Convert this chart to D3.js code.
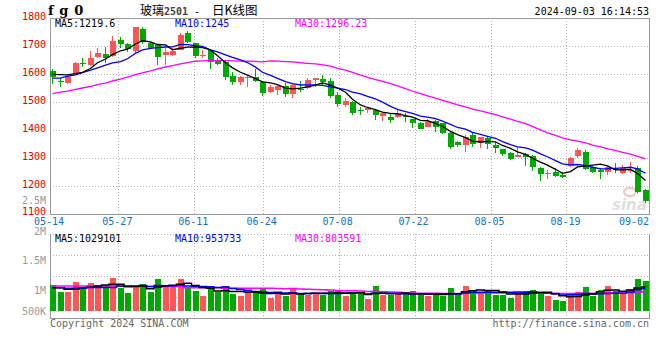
<!DOCTYPE html>
<html><head><meta charset="utf-8">
<script src="https://cdn.jsdelivr.net/npm/d3@7"></script>
<style>
html,body{margin:0;padding:0;background:#fff;}
svg{display:block;}
text{font-family:"DejaVu Sans Mono",monospace;font-size:10px;}
</style></head><body>
<svg id="c" width="660" height="360"></svg>
<script>
// ---------- data ----------
const dates = ["05-14","05-15","05-16","05-17","05-20","05-21","05-22","05-23","05-24","05-27",
"05-28","05-29","05-30","05-31","06-03","06-04","06-05","06-06","06-07","06-11",
"06-12","06-13","06-14","06-17","06-18","06-19","06-20","06-21","06-24","06-25",
"06-26","06-27","06-28","07-01","07-02","07-03","07-04","07-05","07-08","07-09",
"07-10","07-11","07-12","07-15","07-16","07-17","07-18","07-19","07-22","07-23",
"07-24","07-25","07-26","07-29","07-30","07-31","08-01","08-02","08-05","08-06",
"08-07","08-08","08-09","08-12","08-13","08-14","08-15","08-16","08-19","08-20",
"08-21","08-22","08-23","08-26","08-27","08-28","08-29","08-30","09-02","09-03"];
const open = [1612,1574,1570,1600,1641,1632,1662,1671,1664,1721,1707,1683,1760,1712,1704,1668,1668,1689,1747,1710,
1666,1684,1648,1644,1593,1572,1588,1590,1572,1537,1543,1557,1530,1547,1553,1579,1582,1576,1525,1490,
1501,1472,1469,1471,1450,1447,1445,1450,1439,1426,1412,1432,1424,1390,1358,1346,1382,1352,1373,1346,
1331,1319,1305,1316,1307,1263,1244,1251,1239,1272,1305,1323,1269,1257,1250,1259,1245,1256,1263,1184];
const high = [1617,1585,1592,1643,1656,1683,1692,1698,1736,1733,1710,1769,1767,1716,1706,1692,1692,1745,1752,1712,
1686,1686,1656,1646,1606,1592,1593,1618,1574,1561,1559,1567,1567,1575,1587,1587,1598,1585,1536,1513,
1503,1483,1483,1473,1461,1459,1471,1461,1441,1427,1438,1434,1426,1392,1360,1382,1390,1376,1375,1358,
1333,1321,1338,1318,1309,1269,1257,1263,1251,1305,1335,1329,1271,1263,1271,1281,1275,1286,1271,1189];
const low = [1564,1552,1566,1598,1624,1630,1656,1640,1662,1692,1680,1674,1707,1690,1632,1632,1666,1686,1711,1656,
1656,1618,1631,1580,1562,1561,1555,1573,1520,1531,1525,1519,1516,1537,1545,1555,1561,1513,1483,1482,
1454,1452,1462,1436,1433,1426,1443,1430,1408,1402,1410,1394,1385,1332,1338,1322,1340,1335,1332,1317,
1307,1293,1304,1273,1255,1219,1224,1233,1227,1269,1299,1257,1245,1224,1239,1247,1243,1247,1174,1140];
const close = [1590,1572,1590,1640,1638,1658,1676,1656,1718,1707,1688,1767,1715,1695,1662,1680,1682,1741,1715,1664,
1669,1640,1639,1590,1572,1590,1590,1576,1532,1555,1557,1529,1562,1544,1580,1586,1570,1522,1492,1504,
1460,1469,1477,1454,1460,1437,1460,1445,1426,1404,1430,1412,1390,1340,1346,1376,1350,1374,1352,1335,
1313,1299,1311,1306,1267,1242,1246,1237,1233,1299,1327,1262,1251,1250,1269,1257,1263,1258,1176,1144];
const volume = [1109000,821000,821000,1253000,965000,1210000,1066000,1066000,1426000,965000,
778000,1008000,1152000,821000,1368000,1066000,1109000,1368000,1037000,864000,
634000,922000,821000,1066000,720000,634000,821000,749000,922000,562000,
720000,648000,936000,749000,677000,749000,677000,864000,893000,634000,
778000,706000,504000,1080000,677000,677000,706000,706000,850000,677000,
648000,677000,648000,994000,706000,1066000,893000,821000,893000,677000,
677000,562000,821000,850000,893000,792000,648000,461000,418000,720000,
806000,1008000,648000,893000,1066000,864000,706000,922000,1368000,1282000];
// moving-average values before a full window exists inside this period
const ma5Head = [1599,1598,1597,1601];
const ma10Head = [1585,1585,1592,1597,1605,1614,1622,1632,1640];
const ma30Head = [1530,1535,1539,1545,1550,1556,1562,1567,1575,1582,1589,1598,1604,1611,1618,1625,1630,1636,1641,1646,1647,1648,1648,1648,1647,1646,1646,1645,1643];
const volMa5Head = [990000,990000,930000,930000];
const volMa10Head = [990000,990000,970000,970000,970000,1000000,1000000,1000000,1000000];
const volMa30Head = [1070000,1070000,1070000,1070000,1070000,1070000,1070000,1070000,1070000,1070000,1070000,1070000,
1040000,1040000,1040000,1040000,1040000,1040000,990000,990000,990000,990000,990000,970000,970000,970000,970000,970000,970000];
const priceTicks = [1800,1700,1600,1500,1400,1300,1200,1100];
const volTickValues = [2500000,2000000,1500000,1000000,500000];
const volTickLabels = ["2.5M","2M","1.5M","1M","500K"];
const dateTicks = ["05-14","05-27","06-11","06-24","07-08","07-22","08-05","08-19","09-02"];
const maNames = ["MA5","MA10","MA30"];
const priceMaText = ["1219.6","1245","1296.23"];
const volMaText = ["1029101","953733","803591"];
const maColors = ["#000000","#0000ff","#ff00ff"];

// ---------- helpers ----------
function movingAvg(arr, n, head){
  return arr.map((v,i)=> i < n-1 ? head[i] : d3.mean(arr.slice(i-n+1,i+1)));
}
const ma5 = movingAvg(close,5,ma5Head), ma10 = movingAvg(close,10,ma10Head), ma30 = movingAvg(close,30,ma30Head);
const vma5 = movingAvg(volume,5,volMa5Head), vma10 = movingAvg(volume,10,volMa10Head), vma30 = movingAvg(volume,30,volMa30Head);

const UP="#ff5555", DOWN="#00a800", GRID="#b4b4b4", FRAME="#999999";
const L=50, R=649, T=18, B=214, VT=234, VB=318;

const svg = d3.select("#c");
const x = d3.scaleBand().domain(dates).range([49.5,649.5]).paddingInner(0.2).paddingOuter(0.1);
const xg = d3.scalePoint().domain(dates).range([50,650]);
const y = d3.scaleLinear().domain([1100,1800]).range([214,18]);
const yv = d3.scaleLinear().domain([0,3300000]).range([310.7,234.3]);
const yvl = d3.scaleLinear().domain([650000,2500000]).range([311,200]).clamp(true);
const bx = d => Math.round(x(d));
const cx = d => Math.round(x(d)) + 3;

// ---------- gridlines ----------
const g = svg.append("g").attr("shape-rendering","crispEdges");
g.selectAll(".hg").data(priceTicks.filter(p=>p<1800 && p>1100)).join("line")
  .attr("x1",L).attr("x2",R).attr("y1",p=>Math.round(y(p))+0.5).attr("y2",p=>Math.round(y(p))+0.5)
  .attr("stroke",GRID).attr("stroke-dasharray","1,2");
const vTicks = dateTicks.slice(1,-1);
g.selectAll(".vg").data(vTicks).join("line")
  .attr("x1",d=>Math.round(xg(d))+0.5).attr("x2",d=>Math.round(xg(d))+0.5).attr("y1",T).attr("y2",B)
  .attr("stroke",GRID).attr("stroke-dasharray","1,2");
g.selectAll(".vg2").data(vTicks).join("line")
  .attr("x1",d=>Math.round(xg(d))+0.5).attr("x2",d=>Math.round(xg(d))+0.5).attr("y1",VT).attr("y2",VB)
  .attr("stroke",GRID).attr("stroke-dasharray","1,2");
g.selectAll(".vh").data([1,2,3]).join("line")
  .attr("x1",L).attr("x2",R).attr("y1",k=>VT+k*(VB-VT)/4+0.5).attr("y2",k=>VT+k*(VB-VT)/4+0.5)
  .attr("stroke",GRID).attr("stroke-dasharray","1,2");
g.append("line").attr("x1",L).attr("x2",R).attr("y1",VT+0.5).attr("y2",VT+0.5)
  .attr("stroke",GRID).attr("stroke-dasharray","1,2");

// frames
g.append("path").attr("d",`M${L+0.5},${B+0.5}V${T+0.5}H${R+0.5}V${B+0.5}H${L+0.5}`)
  .attr("fill","none").attr("stroke",FRAME);
g.append("path").attr("d",`M${L+0.5},${VT}V${VB+0.5}H${R+0.5}V${VT}`)
  .attr("fill","none").attr("stroke",FRAME);

// watermark
const wm = svg.append("g").attr("opacity",0.5);
wm.append("ellipse").attr("cx",630).attr("cy",192).attr("rx",6).attr("ry",4)
  .attr("fill","none").attr("stroke","#f08a8a").attr("stroke-width",2);
wm.append("text").attr("x",612).attr("y",210).text("sina")
  .style("font-family","DejaVu Sans").style("font-style","italic").style("font-weight","bold")
  .style("font-size","15px").attr("fill","#c0c0c0");

// ---------- candles ----------
const cg = svg.append("g").attr("shape-rendering","crispEdges");
const idx = d3.range(dates.length);
const col = i => close[i] >= open[i] ? UP : DOWN;
cg.selectAll(".wick").data(idx).join("line")
  .attr("x1",i=>cx(dates[i])-0.5).attr("x2",i=>cx(dates[i])-0.5)
  .attr("y1",i=>y(high[i])).attr("y2",i=>y(low[i]))
  .attr("stroke",col);
cg.selectAll(".body").data(idx).join("rect")
  .attr("x",i=>bx(dates[i])).attr("width",6)
  .attr("y",i=>Math.round(Math.min(y(open[i]),y(close[i]))))
  .attr("height",i=>Math.max(1,Math.round(Math.abs(y(open[i])-y(close[i])))))
  .attr("fill",col);

// price MA lines
const lineP = d3.line().x((v,i)=>cx(dates[i])-0.5).y(v=>y(v));
[ma30,ma10,ma5].forEach((s,k)=>{
  svg.append("path").attr("d",lineP(s)).attr("fill","none")
    .attr("stroke",maColors[2-k]).attr("stroke-width",1.3);
});

// ---------- volume ----------
const vg = svg.append("g").attr("shape-rendering","crispEdges");
vg.selectAll(".vb").data(idx).join("rect")
  .attr("x",i=>bx(dates[i])).attr("width",6)
  .attr("y",i=>Math.round(yv(volume[i])))
  .attr("height",i=>Math.round(yv(0))-Math.round(yv(volume[i])))
  .attr("fill",col);
const lineV = d3.line().x((v,i)=>cx(dates[i])-0.5).y(v=>yv(v)).curve(d3.curveStep);
[vma30,vma10,vma5].forEach((s,k)=>{
  svg.append("path").attr("d",lineV(s)).attr("fill","none")
    .attr("stroke",maColors[2-k]).attr("stroke-width",1.5);
});

// ---------- texts ----------
svg.append("text").attr("x",48).attr("y",15).text("f g 0")
  .style("font-family","DejaVu Serif").style("font-weight","bold").style("font-size","13px")
  .style("letter-spacing","0.6px").attr("fill","#000");
const cjk = "'Noto Sans CJK SC'";
svg.append("text").attr("x",140).attr("y",15).text("玻璃")
  .style("font-family",cjk).style("font-size","12px").attr("fill","#000");
svg.append("text").attr("x",164).attr("y",15).text("2501")
  .style("font-weight","bold").attr("fill","#444");
svg.append("text").attr("x",194).attr("y",15).text("-").attr("fill","#000");
svg.append("text").attr("x",212).attr("y",15).text("日K线图")
  .style("font-family",cjk).style("font-size","12.5px").attr("fill","#000");
svg.append("text").attr("x",649).attr("y",15).attr("text-anchor","end").text("2024-09-03 16:14:53").attr("fill","#000");

const maX = [55,175,295];
maNames.forEach((n,k)=>{
  svg.append("text").attr("x",maX[k]).attr("y",27).text(n+":"+priceMaText[k]).attr("fill",maColors[k]);
  svg.append("text").attr("x",maX[k]).attr("y",242).text(n+":"+volMaText[k]).attr("fill",maColors[k]);
});

svg.selectAll(".pl").data(priceTicks).join("text")
  .attr("x",46).attr("y",p=>y(p)+(p===1100?1:2)).attr("text-anchor","end").attr("fill","#e00000").text(p=>p);
svg.selectAll(".vl").data(volTickValues).join("text")
  .attr("x",46).attr("y",(v,i)=>yvl(v)+(i===1?4.5:3.5)).attr("text-anchor","end").attr("fill","#999")
  .text((v,i)=>volTickLabels[i]);
svg.selectAll(".xl").data(dateTicks).join("text")
  .attr("x",d=>Math.min(xg(d)-1, R-15)).attr("y",224.5).attr("text-anchor","middle")
  .attr("fill","#0a74c8").text(d=>d);

svg.append("text").attr("x",50).attr("y",327).text("Copyright 2024 SINA.COM").attr("fill","#666");
svg.append("text").attr("x",649).attr("y",327).attr("text-anchor","end").text("http://finance.sina.com.cn").attr("fill","#666");
</script>
</body></html>
